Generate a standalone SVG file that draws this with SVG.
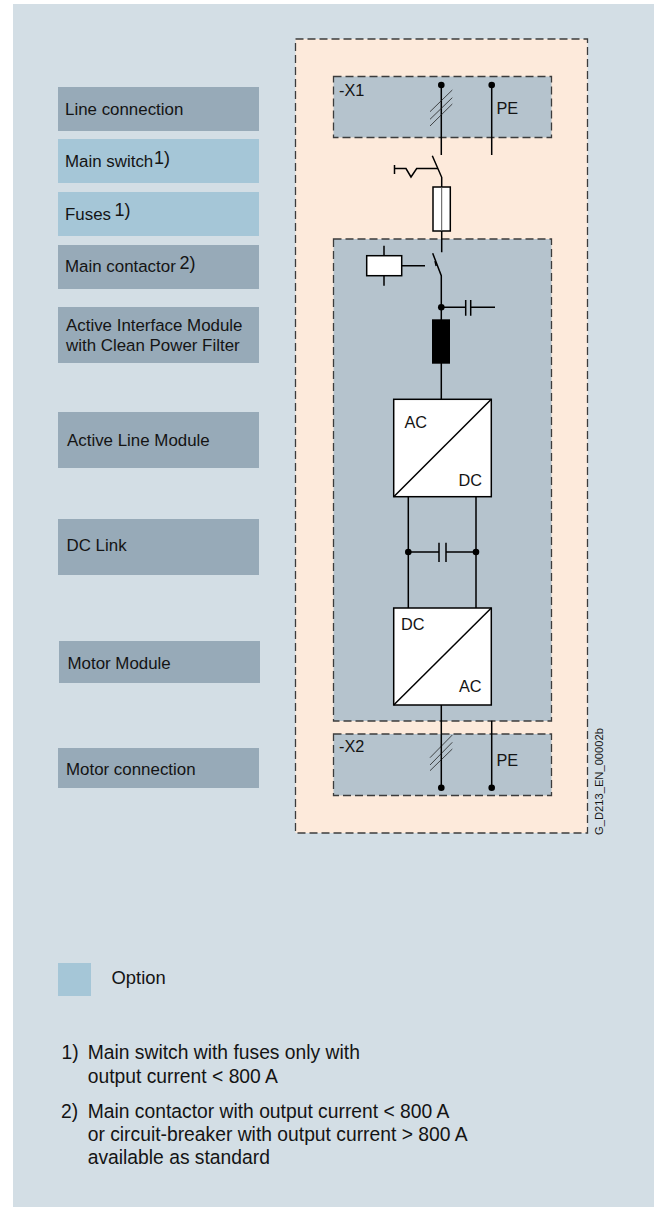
<svg xmlns="http://www.w3.org/2000/svg" width="654" height="1207" viewBox="0 0 654 1207">
<style>
text{font-family:"Liberation Sans",Arial,sans-serif;fill:#141414}
.l{font-size:16.900px}
.sup{font-size:18px}
.s{font-size:16.300px}
.n{font-size:19.300px}
.o{font-size:18.400px}
.dash{stroke:#3c3c3c;stroke-width:1.300;stroke-dasharray:8 4}
.w{stroke:#000;stroke-width:1.500;fill:none}
.t{stroke:#222;stroke-width:.8;fill:none}
.box{fill:#fff;stroke:#000;stroke-width:1.500}
.std{fill:#97aab8}
.opt{fill:#a5c6d7}
</style>
<defs><circle id="d" r="3.300" fill="#000"/></defs>
<rect x="13" y="4" width="641" height="1203" fill="#d3dee5"/>
<g id="enclosure"><rect x="295.500" y="39" width="292" height="794" fill="#fdeadb" class="dash"/></g>
<g id="x1"><rect x="333.500" y="76.500" width="218" height="61" fill="#b5c3cd" class="dash"/><text class="s" x="339" y="96">-X1</text><text class="s" x="496.500" y="114">PE</text></g>
<g id="cabinet"><rect x="333.500" y="239" width="218" height="482" fill="#b5c3cd" class="dash"/></g>
<g id="x2"><rect x="333.500" y="734" width="218" height="61.500" fill="#b5c3cd" class="dash"/><text class="s" x="339" y="752">-X2</text><text class="s" x="496.500" y="766">PE</text></g>
<g id="label-line"><rect class="std" x="58" y="87" width="201" height="44"/><text class="l" x="65" y="115">Line connection</text></g>
<g id="label-switch"><rect class="opt" x="58" y="139" width="201" height="44"/><text class="l" x="65" y="166.500">Main switch</text><text class="sup" x="154" y="163.500">1)</text></g>
<g id="label-fuses"><rect class="opt" x="58" y="192" width="201" height="44"/><text class="l" x="65" y="220">Fuses</text><text class="sup" x="114.500" y="215.500">1)</text></g>
<g id="label-contactor"><rect class="std" x="58" y="245" width="201" height="44"/><text class="l" x="65" y="271.500">Main contactor</text><text class="sup" x="179.500" y="269">2)</text></g>
<g id="label-aim"><rect class="std" x="58" y="307" width="201" height="56"/><text class="l" x="66" y="331">Active Interface Module</text><text class="l" x="66" y="351">with Clean Power Filter</text></g>
<g id="label-alm"><rect class="std" x="58" y="412" width="201" height="56"/><text class="l" x="67" y="446">Active Line Module</text></g>
<g id="label-dc"><rect class="std" x="58" y="519" width="201" height="56"/><text class="l" x="66.500" y="551">DC Link</text></g>
<g id="label-motor"><rect class="std" x="59" y="641" width="201" height="42"/><text class="l" x="67.500" y="669">Motor Module</text></g>
<g id="label-motorconn"><rect class="std" x="58" y="748" width="201" height="40"/><text class="l" x="66" y="775">Motor connection</text></g>
<g id="connectors">
<path class="w" d="M441.300 85V155M491.700 85V155M432.300 155.700L441.700 177.300V188M441.700 231V252.300M432.700 253.300L441.300 275.700V321"/>
<path class="w" d="M394.500 165V174M394.500 168.500H406L411 177L416.700 168.500H438M435 261L436.200 266"/>
<path class="t" d="M430 111.700L452.300 90M430 119.300L452.300 97.700M430 126L452.300 104M430 757.700L452.300 735M430 765L452.300 742.300M430 770.700L452.300 749"/>
<path class="w" d="M384 245.700V285.700M402 265.700H425M441.300 307.300H465.700M470.700 307.300H495M465.700 300V315.700M470.700 300V315.700M441.300 363V400M408.300 497V608M476 497V608M408.300 552H439M446 552H476M439 542.700V562M446 542.700V562M441.300 705V787.700M491.700 720.700V787.700"/>
<use href="#d" x="441.300" y="85"/><use href="#d" x="491.700" y="85"/><use href="#d" x="441.300" y="307.300"/><use href="#d" x="408.300" y="552"/><use href="#d" x="476" y="552"/><use href="#d" x="441.300" y="787.700"/><use href="#d" x="491.700" y="787.700"/>
</g>
<g id="fuse"><rect class="box" x="433" y="187" width="17.300" height="44"/><path d="M441.700 187V231" stroke="#555" stroke-width="1" fill="none"/></g>
<g id="coil"><rect class="box" x="366.700" y="255.700" width="35" height="20"/></g>
<g id="reactor"><rect x="432" y="319.300" width="18" height="44.400" fill="#000"/></g>
<g id="converter-1"><rect class="box" x="393.700" y="399.300" width="97.600" height="97.400"/><path class="w" d="M393.700 496.700L491.300 399.300"/><text class="s" x="404.500" y="428.300">AC</text><text class="s" x="458.500" y="486">DC</text></g>
<g id="converter-2"><rect class="box" x="393.700" y="608" width="97.600" height="97"/><path class="w" d="M393.700 705L491.300 608"/><text class="s" x="401" y="630.300">DC</text><text class="s" x="459" y="692">AC</text></g>
<g id="code"><text x="602.700" y="835" transform="rotate(-90 602.700 835)" style="font-size:11.200px">G_D213_EN_00002b</text></g>
<g id="legend"><rect class="opt" x="58" y="963" width="33" height="33"/><text class="o" x="111.500" y="984">Option</text></g>
<g id="notes">
<text class="n" x="61.500" y="1059">1)</text><text class="n" x="87.700" y="1059">Main switch with fuses only with</text><text class="n" x="87.700" y="1083">output current &lt; 800 A</text>
<text class="n" x="61" y="1118">2)</text><text class="n" x="87.700" y="1118">Main contactor with output current &lt; 800 A</text><text class="n" x="87.700" y="1141">or circuit-breaker with output current &gt; 800 A</text><text class="n" x="87.700" y="1164">available as standard</text>
</g>
</svg>
